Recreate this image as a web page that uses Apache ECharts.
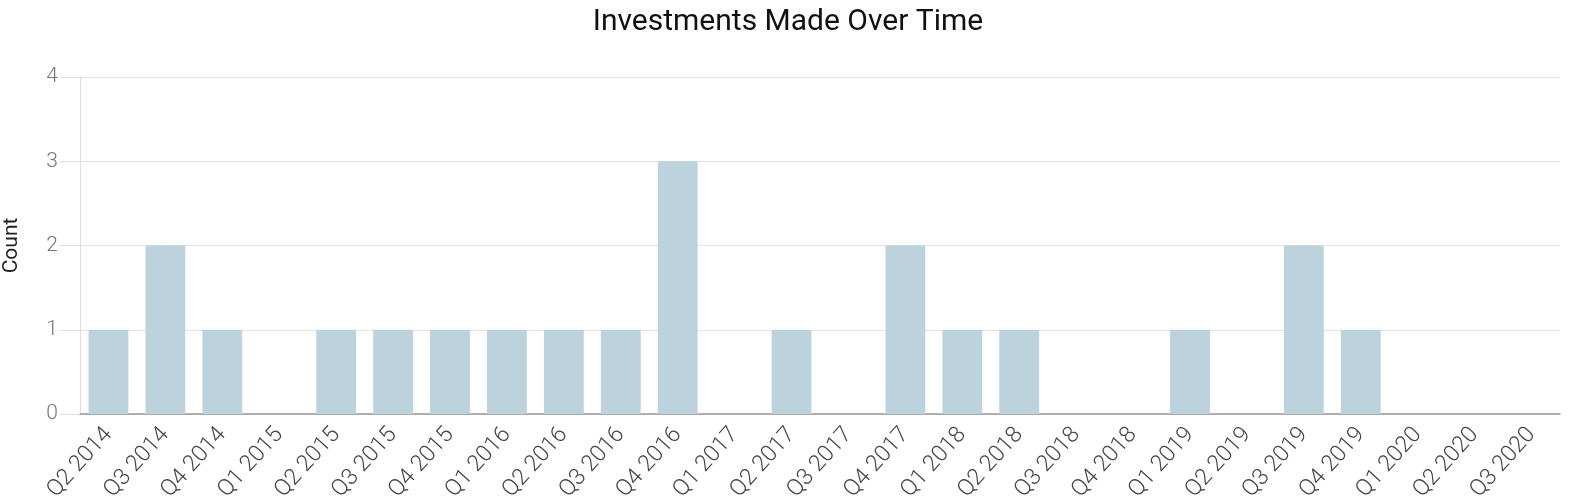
<!DOCTYPE html>
<html><head><meta charset="utf-8">
<script src="https://cdn.jsdelivr.net/npm/echarts@6/dist/echarts.min.js"></script>
<style>html,body{margin:0;padding:0;background:#fff}#c{width:1576px;height:504px}</style>
</head><body><div id="c"></div>
<script>
const categories = ["Q2 2014","Q3 2014","Q4 2014","Q1 2015","Q2 2015","Q3 2015","Q4 2015","Q1 2016","Q2 2016","Q3 2016","Q4 2016","Q1 2017","Q2 2017","Q3 2017","Q4 2017","Q1 2018","Q2 2018","Q3 2018","Q4 2018","Q1 2019","Q2 2019","Q3 2019","Q4 2019","Q1 2020","Q2 2020","Q3 2020"];
const counts = [1,2,1,0,1,1,1,1,1,1,3,0,1,0,2,1,1,0,0,1,0,2,1,0,0,0];
const chart = echarts.init(document.getElementById('c'));
chart.setOption({
  animation:false,
  title:{text:'Investments Made Over Time',left:'center',top:2,textStyle:{fontFamily:'Roboto',fontSize:30,fontWeight:'normal',color:'#111'}},
  grid:{left:80,right:16,top:77,bottom:90,containLabel:false,outerBoundsMode:'none'},
  xAxis:{type:'category',data:categories,
    axisLine:{lineStyle:{color:'#999',width:1.5}},
    axisTick:{show:false},
    axisLabel:{rotate:48,fontFamily:'Roboto',fontWeight:300,fontSize:23,color:'#444',margin:17,interval:0}},
  yAxis:{type:'value',min:0,max:4,interval:1,name:'Count',nameLocation:'middle',nameGap:58,
    nameTextStyle:{fontFamily:'Roboto',fontSize:21,color:'#222'},
    axisLine:{show:true,lineStyle:{color:'#ddd'}},
    axisTick:{show:true,length:20,lineStyle:{color:'#ddd'}},
    splitLine:{lineStyle:{color:'#e3e3e3'}},
    axisLabel:{fontFamily:'Roboto',fontWeight:300,fontSize:21,color:'#777',margin:22}},
  series:[{type:'bar',data:counts,barCategoryGap:'30%',itemStyle:{color:'#bcd2dd'}}]
});
</script></body></html>
